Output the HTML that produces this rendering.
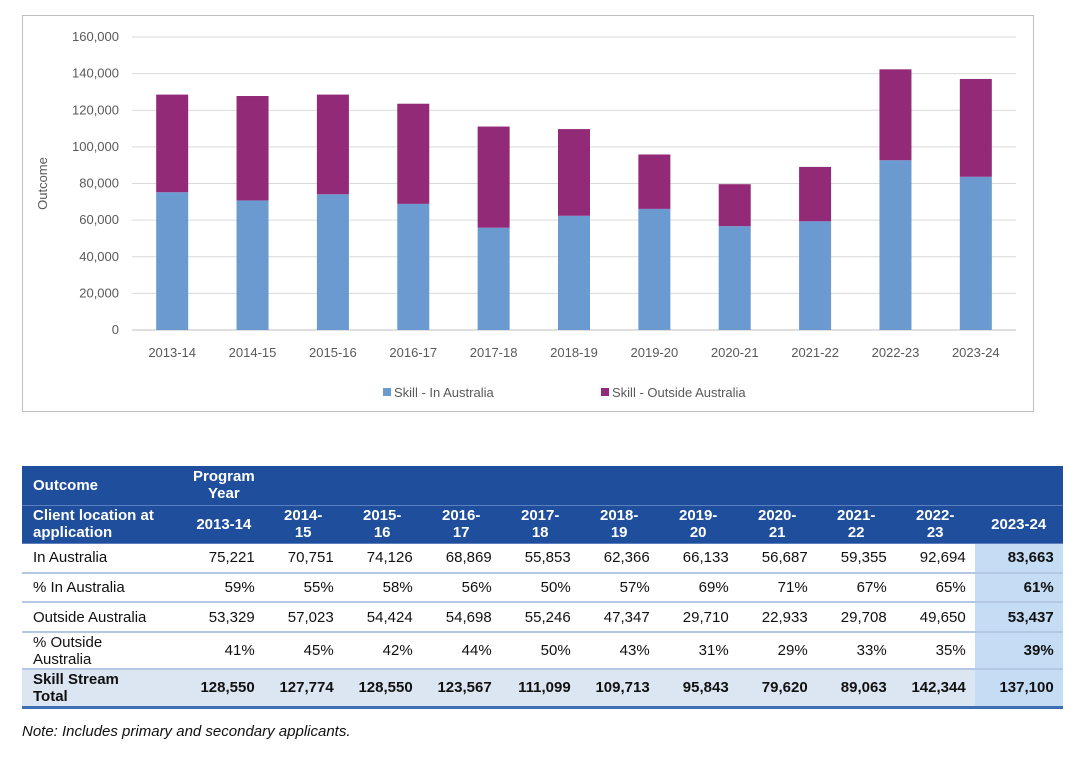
<!DOCTYPE html>
<html><head><meta charset="utf-8"><style>
body{margin:0;width:1080px;height:764px;background:#fff;font-family:"Liberation Sans",Arial,sans-serif;position:relative;overflow:hidden}
#chart{position:absolute;left:22px;top:15px;width:1012px;height:397px;border:1px solid #bfbfbf;box-sizing:border-box}
table{position:absolute;left:22px;top:466px;border-collapse:collapse;table-layout:fixed;font-size:15px;color:#111}
td{padding:0 9px;text-align:right;border-bottom:2px solid #b4c8e4;line-height:17px;white-space:nowrap}
td.l{text-align:left;padding-left:11px}
tr.h td{background:#1f4e9c;color:#fff;font-weight:bold;border-bottom:1px solid #5b7fbf}
tr.h2 td{text-align:center}
tr.t td{background:#dce6f2;font-weight:bold;border-bottom:3px solid #3f6fb3}
td.hl{background:#c5dcf5!important;font-weight:bold}
tr.h td.hl{background:#1f4e9c!important}
#note{position:absolute;left:22px;top:723px;font-size:15px;font-style:italic;color:#111}
</style></head><body>
<div id="chart">
<svg id="svg" width="1012" height="397"></svg>
</div>
<table>
<colgroup><col style="width:162px"><col span="10" style="width:79px"><col style="width:88px"></colgroup>
<tr class="h" style="height:39px"><td class="l">Outcome</td><td style="text-align:center">Program<br>Year</td><td></td><td></td><td></td><td></td><td></td><td></td><td></td><td></td><td></td><td class="hl"></td></tr>
<tr class="h h2" style="height:38px"><td class="l" style="text-align:left">Client location at<br>application</td><td>2013-14</td><td>2014-<br>15</td><td>2015-<br>16</td><td>2016-<br>17</td><td>2017-<br>18</td><td>2018-<br>19</td><td>2019-<br>20</td><td>2020-<br>21</td><td>2021-<br>22</td><td>2022-<br>23</td><td class="hl">2023-24</td></tr>
<tr style="height:30px"><td class="l">In Australia</td><td>75,221</td><td>70,751</td><td>74,126</td><td>68,869</td><td>55,853</td><td>62,366</td><td>66,133</td><td>56,687</td><td>59,355</td><td>92,694</td><td class="hl">83,663</td></tr>
<tr style="height:29px"><td class="l">% In Australia</td><td>59%</td><td>55%</td><td>58%</td><td>56%</td><td>50%</td><td>57%</td><td>69%</td><td>71%</td><td>67%</td><td>65%</td><td class="hl">61%</td></tr>
<tr style="height:30px"><td class="l">Outside Australia</td><td>53,329</td><td>57,023</td><td>54,424</td><td>54,698</td><td>55,246</td><td>47,347</td><td>29,710</td><td>22,933</td><td>29,708</td><td>49,650</td><td class="hl">53,437</td></tr>
<tr style="height:37px"><td class="l">% Outside<br>Australia</td><td>41%</td><td>45%</td><td>42%</td><td>44%</td><td>50%</td><td>43%</td><td>31%</td><td>29%</td><td>33%</td><td>35%</td><td class="hl">39%</td></tr>
<tr class="t" style="height:38px"><td class="l">Skill Stream<br>Total</td><td>128,550</td><td>127,774</td><td>128,550</td><td>123,567</td><td>111,099</td><td>109,713</td><td>95,843</td><td>79,620</td><td>89,063</td><td>142,344</td><td class="hl">137,100</td></tr>
</table>
<div id="note">Note: Includes primary and secondary applicants.</div>
<script>
const categories=["2013-14","2014-15","2015-16","2016-17","2017-18","2018-19","2019-20","2020-21","2021-22","2022-23","2023-24"];
const inAustralia=[75221,70751,74126,68869,55853,62366,66133,56687,59355,92694,83663];
const outsideAustralia=[53329,57023,54424,54698,55246,47347,29710,22933,29708,49650,53437];
const yTicks=[0,20000,40000,60000,80000,100000,120000,140000,160000];
const NS="http://www.w3.org/2000/svg";
const svg=document.getElementById('svg');
const ox=22,oy=15;
const x0=131-ox,x1=1015-ox,y0=329-oy,y1=36-oy,yMax=160000;
const y=v=>y0-(v/yMax)*(y0-y1);
const step=(x1-x0)/categories.length;
const xc=i=>x0+step*(i+0.5);
function mk(t,a){const e=document.createElementNS(NS,t);for(const k in a)e.setAttribute(k,a[k]);svg.appendChild(e);return e;}
yTicks.forEach(v=>{
 const g=mk('line',{x1:x0,x2:x1,y1:y(v),y2:y(v),stroke:v?'#d9d9d9':'#bfbfbf','stroke-width':1});
 
 
 const t=mk('text',{x:118-ox,y:y(v)+4,'text-anchor':'end','font-size':13,fill:'#595959','font-family':'Liberation Sans, sans-serif'});
 t.textContent=v.toLocaleString('en-US');
 
 
});
const yt=mk('text',{x:0,y:0,transform:`translate(${46-ox},${y(80000)}) rotate(-90)`,'text-anchor':'middle','font-size':13,fill:'#595959','font-family':'Liberation Sans, sans-serif'});
yt.textContent='Outcome';


const bw=32;
categories.forEach((c,i)=>{
 const b1=mk('rect',{x:xc(i)-bw/2,y:y(inAustralia[i]),width:bw,height:y0-y(inAustralia[i]),fill:'#6a9ad0'});
 
 
 const tot=inAustralia[i]+outsideAustralia[i];
 const b2=mk('rect',{x:xc(i)-bw/2,y:y(tot),width:bw,height:y(inAustralia[i])-y(tot),fill:'#922a78'});
 
 
 const t=mk('text',{x:xc(i),y:y0+27,'text-anchor':'middle','font-size':13,fill:'#595959','font-family':'Liberation Sans, sans-serif'});
 t.textContent=c;
 
 
});
[["Skill - In Australia","#6a9ad0",382],["Skill - Outside Australia","#922a78",600]].forEach(([n,c,lx])=>{
 const r=mk('rect',{x:lx-ox,y:387-oy,width:8,height:8,fill:c});
 
 
 const t=mk('text',{x:lx-ox+11,y:396-oy,'font-size':13,fill:'#595959','font-family':'Liberation Sans, sans-serif'});
 t.textContent=n;
 
 
});
</script>
</body></html>
